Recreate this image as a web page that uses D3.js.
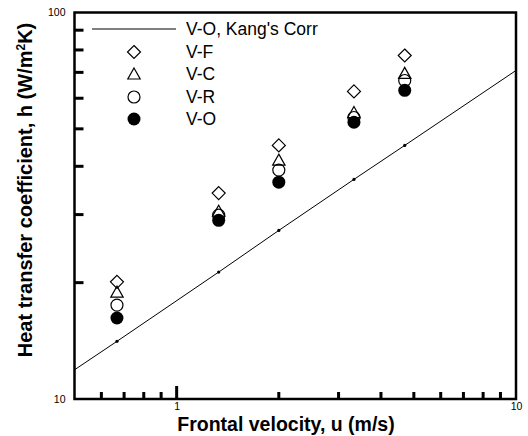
<!doctype html>
<html>
<head>
<meta charset="utf-8">
<style>
    body { margin: 0; background: #fff; }
    svg { display: block; font-family: 'Liberation Sans', Arial, sans-serif; }
    .tick text { font-size: 10.5px; fill: #000; }
    .axis-title { font-size: 20px; font-weight: bold; }
    .legend text { font-size: 17.5px; }
</style>
<script src="https://d3js.org/d3.v7.min.js"></script>
</head>
<body>
<svg width="528" height="436"></svg>
<script>
    // frontal velocity (m/s) of the measured points
    const uVals = [0.667, 1.33, 2.0, 3.33, 4.7];
    // heat transfer coefficient, W/m2K
    const hVF = [20.1, 34.1, 45.3, 62.5, 77.4];
    const hVC = [18.9, 30.6, 41.5, 55.1, 69.6];
    const hVR = [17.5, 29.9, 39.1, 53.5, 66.7];
    const hVO = [16.2, 29.0, 36.4, 52.0, 62.9];

    // Kang's correlation line
    const kangU = [0.5, 0.667, 1.33, 2.0, 3.33, 4.7, 10];
    const kangH = [11.9, 14.1, 21.3, 27.3, 37.0, 45.3, 70.8];

    const xTicks = [0.6, 0.7, 0.8, 0.9, 1, 2, 3, 4, 5, 6, 7, 8, 9];
    const yTicks = [20, 30, 40, 50, 60, 70, 80, 90];
    const xLabels = [1, 10];
    const yLabels = [10, 100];

    const seriesNames = ['V-F', 'V-C', 'V-R', 'V-O'];
    const seriesData = [hVF, hVC, hVR, hVO];
    const lineName = "V-O, Kang's Corr";

    const svg = d3.select('svg');
    const pLeft = 74.5, pRight = 516, pTop = 12.5, pBottom = 399;

    const x = d3.scaleLog().domain([0.5, 10]).range([pLeft, pRight]);
    const y = d3.scaleLog().domain([10, 100]).range([pBottom, pTop]);

    // marker shapes
    const shapes = {
        'V-F': (g) => g.append('path').attr('d', 'M0,-6.5L6.5,0L0,6.5L-6.5,0Z')
            .attr('fill', 'none').attr('stroke', '#000').attr('stroke-width', 1.2),
        'V-C': (g) => g.append('path').attr('d', 'M0,-6L6.2,5L-6.2,5Z')
            .attr('fill', 'none').attr('stroke', '#000').attr('stroke-width', 1.2),
        'V-R': (g) => g.append('circle').attr('r', 6)
            .attr('fill', 'none').attr('stroke', '#000').attr('stroke-width', 1.2),
        'V-O': (g) => g.append('circle').attr('r', 6.5).attr('fill', '#000')
    };

    // tick labels only, via the axes
    const yAxis = svg.append('g')
        .attr('transform', `translate(${pLeft},0)`)
        .call(d3.axisLeft(y).tickValues(yLabels).tickSize(0).tickPadding(9)
            .tickFormat(d3.format('d')));
    yAxis.select('.domain').remove();

    const xAxis = svg.append('g')
        .attr('transform', `translate(0,${pBottom})`)
        .call(d3.axisBottom(x).tickValues(xLabels).tickSize(0).tickPadding(4)
            .tickFormat(d3.format('d')));
    xAxis.select('.domain').remove();
    xAxis.attr('font-family', null);
    yAxis.attr('font-family', null);

    // frame
    svg.append('rect')
        .attr('x', pLeft).attr('y', pTop)
        .attr('width', pRight - pLeft).attr('height', pBottom - pTop)
        .attr('fill', 'none').attr('stroke', '#000').attr('stroke-width', 2.5);

    // inward tick marks
    svg.append('g').selectAll('rect')
        .data(yTicks)
        .enter().append('rect')
        .attr('x', pLeft).attr('width', 9)
        .attr('y', d => y(d) - 1.5).attr('height', 3)
        .attr('fill', '#000');
    svg.append('g').selectAll('rect')
        .data(xTicks)
        .enter().append('rect')
        .attr('x', d => x(d) - 1.5).attr('width', 3)
        .attr('y', d => pBottom - (d === 1 ? 13 : 7))
        .attr('height', d => d === 1 ? 13 : 7)
        .attr('fill', '#000');

    // correlation line
    const kang = kangU.map((u, i) => ({u: u, h: kangH[i]}));
    svg.append('path')
        .datum(kang)
        .attr('fill', 'none').attr('stroke', '#000').attr('stroke-width', 1)
        .attr('d', d3.line().x(d => x(d.u)).y(d => y(d.h)));
    svg.selectAll('.kdot')
        .data(kang.filter(d => uVals.includes(d.u)))
        .enter().append('circle')
        .attr('cx', d => x(d.u)).attr('cy', d => y(d.h)).attr('r', 1.6).attr('fill', '#000');

    // data points
    seriesNames.forEach((name, s) => {
        uVals.forEach((u, i) => {
            const g = svg.append('g').attr('transform', `translate(${x(u)},${y(seriesData[s][i])})`);
            shapes[name](g);
        });
    });

    // legend
    const legend = svg.append('g').attr('class', 'legend');
    legend.append('line')
        .attr('x1', 92).attr('x2', 176).attr('y1', 29).attr('y2', 29)
        .attr('stroke', '#000').attr('stroke-width', 1);
    legend.append('text').attr('x', 186).attr('y', 35).text(lineName);
    const rows = [52, 74, 97, 119];
    seriesNames.forEach((name, s) => {
        const g = legend.append('g').attr('transform', `translate(134,${rows[s]})`);
        shapes[name](g);
        legend.append('text').attr('x', 186).attr('y', rows[s] + 6).text(name);
    });

    // axis titles
    svg.append('text')
        .attr('class', 'axis-title')
        .attr('x', 286).attr('y', 431)
        .style('font-size', '19.5px')
        .attr('text-anchor', 'middle')
        .text('Frontal velocity, u (m/s)');

    const yt = svg.append('text')
        .attr('class', 'axis-title')
        .attr('transform', 'translate(32,190) rotate(-90)')
        .attr('text-anchor', 'middle');
    yt.append('tspan').text('Heat transfer coefficient, h (W/m');
    yt.append('tspan').attr('font-size', '12px').attr('dy', -7).text('2');
    yt.append('tspan').attr('dy', 7).text('K)');
</script>
</body>
</html>
